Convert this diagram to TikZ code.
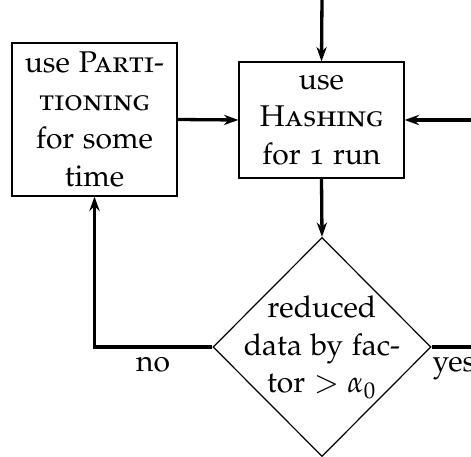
\documentclass[tikz,border=0pt]{standalone}
\usepackage[T1]{fontenc}
\usepackage[osf]{mathpazo}
\usetikzlibrary{arrows.meta,shapes.geometric}
\begin{document}
\begin{tikzpicture}[x=0.33333pt,y=-0.33333pt,
  every node/.style={font=\fontsize{10}{12.6}\selectfont},
  procbox/.style={draw,line width=0.4pt,align=center,inner sep=0pt},
  decbox/.style={draw,diamond,line width=0.4pt,inner sep=0pt,aspect=1},
  flow/.style={line width=1.1pt,-{Stealth[length=4.8pt,width=3.4pt]}},
  plain/.style={line width=1.1pt},
  lbl/.style={inner sep=0pt}]
\useasboundingbox (0,0) rectangle (471,457);
\node[procbox,minimum width=55pt,minimum height=51pt] (P) at (94.5,119.5)
  {use \textsc{Parti-}\\\textsc{tioning}\\for some\\time};
\node[procbox,minimum width=55pt,minimum height=38.67pt] (H) at (321.5,120)
  {use\\\textsc{Hashing}\\for 1 run};
\node[decbox,minimum width=72.67pt,minimum height=73pt] (D) at (322,347) {};
\node[align=center,inner sep=0pt] (Dt) at (D.center)
  {reduced\\data by fac-\\tor $>\alpha_0$};
\coordinate (top) at (322,-3);
\coordinate (rin) at (476,120);
\coordinate (rout) at (476,347);
\draw[flow] (top) -- (H.north);
\draw[flow] (P.east) -- (H.west);
\draw[flow] (rin) -- (H.east);
\draw[flow] (H.south) -- (D.north);
\draw[flow] (D.west) -| (P.south);
\draw[plain] (D.east) -- (rout);
\node[lbl] (no) at (153,365) {no};
\node[lbl,anchor=base west] (yes) at (432,372) {yes};
\end{tikzpicture}
\end{document}
